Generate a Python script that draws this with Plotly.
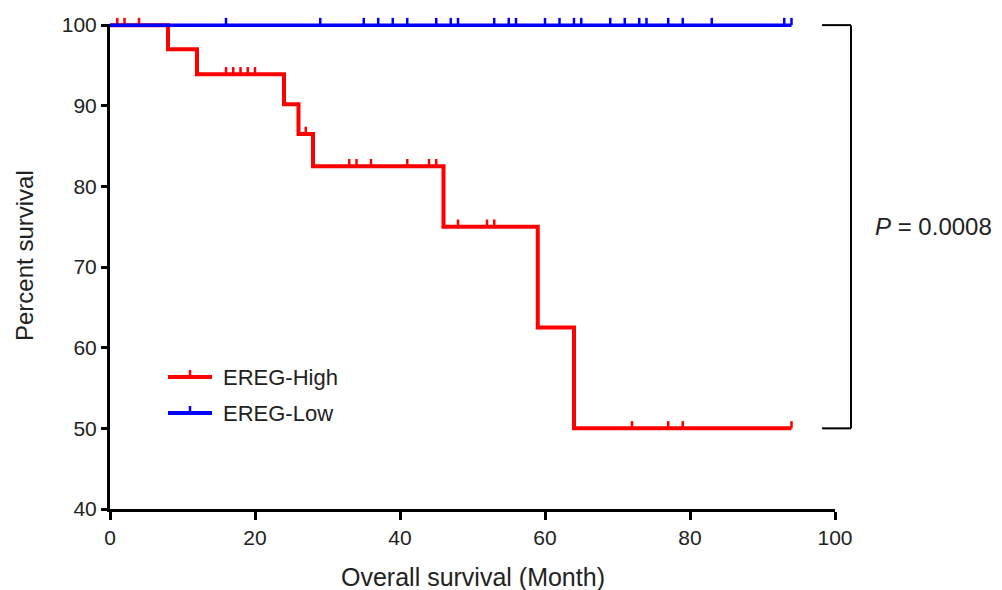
import plotly.graph_objects as go

# ---------------- data ----------------
high_event_months = [8, 12, 24, 26, 28, 46, 59, 64]
high_survival = [97.0, 93.9, 90.2, 86.5, 82.5, 75.0, 62.5, 50.0]
high_last_month = 94
high_censor_months = [1, 2, 4, 16, 17, 18, 19, 20, 27, 33, 34, 36, 41, 44, 45,
                      48, 52, 53, 72, 77, 79, 94]

low_event_months = []
low_survival = []
low_last_month = 94
low_censor_months = [16, 29, 35, 37, 39, 41, 45, 47, 48, 53, 55, 56, 60, 62,
                     64, 65, 69, 71, 73, 74, 77, 79, 83, 93, 94]

x_ticks = [0, 20, 40, 60, 80, 100]
y_ticks = [40, 50, 60, 70, 80, 90, 100]
p_text = "<i>P</i> = 0.0008"
group_names = ["EREG-High", "EREG-Low"]

RED = "#FF0000"
BLUE = "#0000FF"
FONT = "Liberation Sans, Arial, Helvetica, sans-serif"
TXT = "#222222"

# ---------------- geometry ----------------
W, H = 1002, 590
Y_MIN, Y_TOP_TICK, Y_MAX = 40, 100, 102   # small headroom so the 100 % line and ticks are not clipped
ML, MR, MB = 110, 167, 81
MT = 9
PW, PH = W - ML - MR, H - MT - MB


def px_x(p):  # pixel -> paper
    return (p - ML) / PW


def px_y(p):
    return (H - MB - p) / PH


def val_y(v):  # data value -> paper
    return (v - Y_MIN) / (Y_MAX - Y_MIN)


def step_curve(times, surv, last):
    xs = [0] + list(times) + [last]
    ys = [100] + list(surv) + [surv[-1] if surv else 100]
    return xs, ys


def surv_at(t, times, surv):
    s = 100
    for ti, si in zip(times, surv):
        if t >= ti:
            s = si
    return s


def censor_segments(cens, times, surv, h=0.9):
    xs, ys = [], []
    for t in cens:
        s = surv_at(t, times, surv)
        xs += [t, t, None]
        ys += [s, s + h, None]
    return xs, ys


fig = go.Figure()

hx, hy = step_curve(high_event_months, high_survival, high_last_month)
fig.add_trace(go.Scatter(x=hx, y=hy, mode="lines", line=dict(color=RED, width=4, shape="hv"),
                         name=group_names[0], showlegend=False, hoverinfo="skip"))
cx, cy = censor_segments(high_censor_months, high_event_months, high_survival)
fig.add_trace(go.Scatter(x=cx, y=cy, mode="lines", line=dict(color=RED, width=2.5),
                         showlegend=False, hoverinfo="skip"))

lx, ly = step_curve(low_event_months, low_survival, low_last_month)
fig.add_trace(go.Scatter(x=lx, y=ly, mode="lines", line=dict(color=BLUE, width=3.5, shape="hv"),
                         name=group_names[1], showlegend=False, hoverinfo="skip"))
cx, cy = censor_segments(low_censor_months, low_event_months, low_survival)
fig.add_trace(go.Scatter(x=cx, y=cy, mode="lines", line=dict(color=BLUE, width=2.5),
                         showlegend=False, hoverinfo="skip"))

shapes = []
annotations = []

# y axis line drawn only up to the 100 tick
shapes.append(dict(type="line", xref="paper", yref="paper", x0=-1.5 / PW, x1=-1.5 / PW,
                   y0=-3 / PH, y1=val_y(Y_TOP_TICK) + 1.2 / PH, line=dict(color="black", width=3)))

# legend (manual, GraphPad-style)
for i, (name, col) in enumerate(zip(group_names, [RED, BLUE])):
    yy = px_y(377 + i * 36)
    shapes.append(dict(type="line", xref="paper", yref="paper", x0=px_x(168), x1=px_x(212),
                       y0=yy, y1=yy, line=dict(color=col, width=4)))
    shapes.append(dict(type="line", xref="paper", yref="paper", x0=px_x(190), x1=px_x(190),
                       y0=yy, y1=yy + 7 / PH, line=dict(color=col, width=2.5)))
    annotations.append(dict(text=name, xref="paper", yref="paper", x=px_x(221), y=yy,
                            xanchor="left", yanchor="middle", showarrow=False,
                            font=dict(family=FONT, size=22, color=TXT)))

# P-value bracket spanning the two curves' final levels (100 and 50)
y_top = val_y(100)
y_bot = val_y(high_survival[-1])
bx = px_x(851)
for x0, x1, y0, y1 in [(px_x(822), bx, y_top, y_top), (bx, bx, y_top, y_bot),
                       (px_x(822), bx, y_bot, y_bot)]:
    shapes.append(dict(type="line", xref="paper", yref="paper", x0=x0, x1=x1, y0=y0, y1=y1,
                       line=dict(color="black", width=2)))
annotations.append(dict(text=p_text, xref="paper", yref="paper", x=px_x(873), y=(y_top + y_bot) / 2,
                        xanchor="left", yanchor="middle", showarrow=False,
                        font=dict(family=FONT, size=24, color=TXT)))

# axis titles
annotations.append(dict(text="Overall survival (Month)", xref="paper", yref="paper", x=0.5, y=0,
                        yshift=-(577 - (H - MB)), xanchor="center", yanchor="middle", showarrow=False,
                        font=dict(family=FONT, size=25, color=TXT)))
annotations.append(dict(text="Percent survival", xref="paper", yref="paper", x=0, xshift=24 - ML,
                        y=px_y(256), xanchor="center", yanchor="middle", textangle=-90, showarrow=False,
                        font=dict(family=FONT, size=24, color=TXT)))

tick_common = dict(ticks="outside", ticklen=8, tickwidth=2.5, tickcolor="black",
                   showgrid=False, zeroline=False,
                   tickfont=dict(family=FONT, size=21, color=TXT))

fig.update_layout(
    width=W, height=H,
    margin=dict(l=ML, r=MR, t=MT, b=MB),
    paper_bgcolor="white", plot_bgcolor="white",
    xaxis=dict(range=[0, 100], tickvals=x_ticks, showline=True, linecolor="black", linewidth=3,
               **tick_common),
    yaxis=dict(range=[Y_MIN, Y_MAX], tickvals=y_ticks, showline=False, **tick_common),
    shapes=shapes, annotations=annotations,
    showlegend=False,
)

fig.write_html("out.html", config={"displayModeBar": False},
               post_script="document.body.style.margin='0px';")
